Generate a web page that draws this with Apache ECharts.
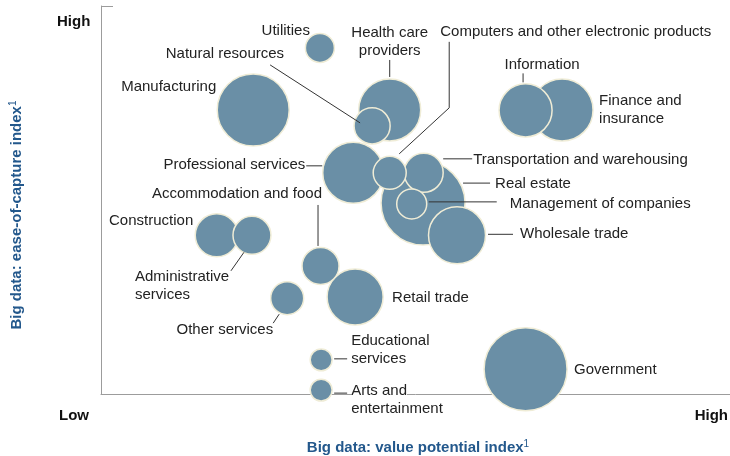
<!DOCTYPE html>
<html>
<head>
<meta charset="utf-8">
<script src="https://cdn.jsdelivr.net/npm/echarts@6/dist/echarts.min.js"></script>
<style>
  html, body { margin: 0; padding: 0; background: #fff; }
  #bigdata { width: 730px; height: 456px; }
</style>
</head>
<body>
<div id="bigdata"></div>
<script>
  // industries, value potential (x), ease of capture (y), bubble weight
  var industries = ['Utilities', 'Health care providers', 'Natural resources', 'Manufacturing',
    'Information', 'Finance and insurance', 'Professional services',
    'Computers and other electronic products', 'Transportation and warehousing', 'Real estate',
    'Management of companies', 'Wholesale trade', 'Construction', 'Administrative services',
    'Accommodation and food', 'Retail trade', 'Other services', 'Educational services',
    'Arts and entertainment', 'Government'];
  var labelText = ['Utilities', 'Health care\nproviders', 'Natural resources', 'Manufacturing',
    'Information', 'Finance and\ninsurance', 'Professional services',
    'Computers and other electronic products', 'Transportation and warehousing', 'Real estate',
    'Management of companies', 'Wholesale trade', 'Construction', 'Administrative\nservices',
    'Accommodation and food', 'Retail trade', 'Other services', 'Educational\nservices',
    '{w|Arts and}\nentertainment', 'Government'];
  var valuePotential = [34.8, 45.9, 43.1, 24.2, 67.5, 73.3, 40.1, 45.9, 51.3, 51.2,
    49.4, 56.6, 18.4, 24.0, 34.9, 40.4, 29.6, 35.0, 35.0, 67.5];
  var easeOfCapture = [89.2, 73.2, 69.1, 73.2, 73.1, 73.2, 57.0, 57.0, 57.0, 49.2,
    49.0, 40.9, 40.9, 40.9, 33.0, 25.0, 24.7, 8.8, 1.0, 6.4];
  var weight = [8.4, 38.4, 13.0, 51.8, 28.1, 38.4, 37.2, 10.9, 15.2, 70.6,
    9.0, 32.5, 18.5, 14.4, 13.7, 31.4, 10.9, 4.8, 4.8, 68.9];

  // label offsets from bubble centre (px) and leader polylines
  var labelPos = [
    { dx: -10, dy: -17, align: 'right' },
    { dx: 0, dy: -68, align: 'center', leader: [[0, -50], [0, -33]] },
    { dx: -88, dy: -72, align: 'right', leader: [[-102, -61], [-12, -3]] },
    { dx: -37, dy: -23, align: 'right' },
    { dx: 16.5, dy: -46, align: 'center', leader: [[-2.5, -37], [-2.5, -28]] },
    { dx: 37, dy: 0, align: 'left' },
    { dx: -48, dy: -8, align: 'right', leader: [[-47, -7], [-31, -7]] },
    { dx: 50.5, dy: -141, align: 'left', leader: [[59.5, -131], [59.5, -65], [9.5, -19]] },
    { dx: 49.5, dy: -13, align: 'left', leader: [[19.5, -14], [48.5, -14]] },
    { dx: 72, dy: -19, align: 'left', leader: [[40, -20], [67, -20]] },
    { dx: 98, dy: -0.5, align: 'left', leader: [[17, -2], [85, -2]] },
    { dx: 63, dy: -1.5, align: 'left', leader: [[31, -1], [56, -1]] },
    { dx: -23.5, dy: -14, align: 'right' },
    { dx: -117, dy: 51, align: 'left', leader: [[-21, 35.5], [-8, 17]] },
    { dx: 1.5, dy: -72, align: 'right', leader: [[-2.5, -61], [-2.5, -20]] },
    { dx: 37, dy: 0.5, align: 'left' },
    { dx: -14, dy: 31.5, align: 'right', leader: [[-14, 25], [-8, 16]] },
    { dx: 30, dy: -9.5, align: 'left', leader: [[13, -1], [26, -1]] },
    { dx: 30, dy: 10, align: 'left', leader: [[13, 3], [26, 3]] },
    { dx: 48.5, dy: 0.5, align: 'left' }
  ];

  var FONT = '"Liberation Sans", Arial, sans-serif';
  var chart = echarts.init(document.getElementById('bigdata'));

  var bubbles = industries.map(function (n, i) {
    return { name: n, value: [valuePotential[i], easeOfCapture[i], weight[i]] };
  });
  // bigger bubbles first so the small ones sit on top
  bubbles.sort(function (a, b) { return b.value[2] - a.value[2]; });

  var points = industries.map(function (n, i) {
    return [valuePotential[i], easeOfCapture[i]];
  });

  chart.setOption({
    animation: false,
    grid: { left: 101, right: 0, top: 6, bottom: 62 },
    xAxis: {
      type: 'value', min: 0, max: 100, interval: 100,
      axisLine: { lineStyle: { color: '#9c9c9c', width: 1 } },
      axisTick: { show: false },
      axisLabel: { show: false },
      splitLine: { show: false }
    },
    yAxis: {
      type: 'value', min: 0, max: 100, interval: 100,
      axisLine: { show: true, lineStyle: { color: '#9c9c9c', width: 1 } },
      axisTick: { show: true, inside: true, length: 12, lineStyle: { color: '#9c9c9c' } },
      axisLabel: { show: false },
      splitLine: { show: false }
    },
    graphic: [
      { type: 'text', left: 57, top: 14, style: { text: 'High', font: 'bold 15px ' + FONT, fill: '#111' } },
      { type: 'text', left: 59, top: 408, style: { text: 'Low', font: 'bold 15px ' + FONT, fill: '#111' } },
      { type: 'text', right: 2, top: 408, style: { text: 'High', font: 'bold 15px ' + FONT, fill: '#111' } },
      {
        type: 'text', x: 418, y: 448,
        style: {
          text: '{t|Big data: value potential index}{s|1}',
          align: 'center', verticalAlign: 'middle',
          rich: {
            t: { font: 'bold 15px ' + FONT, fill: '#23588c' },
            s: { font: '10px ' + FONT, fill: '#23588c', verticalAlign: 'top', padding: [0, 0, 8, 0] }
          }
        }
      },
      {
        type: 'text', x: 17, y: 215, rotation: Math.PI / 2,
        style: {
          text: '{t|Big data: ease-of-capture index}{s|1}',
          align: 'center', verticalAlign: 'middle',
          rich: {
            t: { font: 'bold 15px ' + FONT, fill: '#23588c' },
            s: { font: '10px ' + FONT, fill: '#23588c', verticalAlign: 'top', padding: [0, 0, 8, 0] }
          }
        }
      }
    ],
    series: [{
      type: 'scatter',
      data: bubbles,
      symbolSize: function (v) { return Math.sqrt(v[2]) * 10; },
      itemStyle: { color: '#6a8fa6', borderColor: '#efecd6', borderWidth: 1.5, opacity: 1 },
      z: 2
    }, {
      type: 'custom',
      data: points,
      z: 3,
      silent: true,
      renderItem: function (params, api) {
        var i = params.dataIndex;
        var c = api.coord([api.value(0), api.value(1)]);
        var L = labelPos[i];
        var kids = [];
        if (L.leader) {
          kids.push({
            type: 'polyline',
            shape: { points: L.leader.map(function (p) { return [c[0] + p[0], c[1] + p[1]]; }) },
            style: { stroke: '#333', lineWidth: 1, fill: null }
          });
        }
        kids.push({
          type: 'text',
          x: c[0] + L.dx, y: c[1] + L.dy,
          style: {
            text: labelText[i], font: '15px ' + FONT, fill: '#222',
            align: L.align, verticalAlign: 'middle', lineHeight: 18,
            rich: { w: { backgroundColor: '#fff', font: '15px ' + FONT, fill: '#222', lineHeight: 18 } }
          }
        });
        return { type: 'group', children: kids };
      }
    }]
  });
</script>
</body>
</html>
